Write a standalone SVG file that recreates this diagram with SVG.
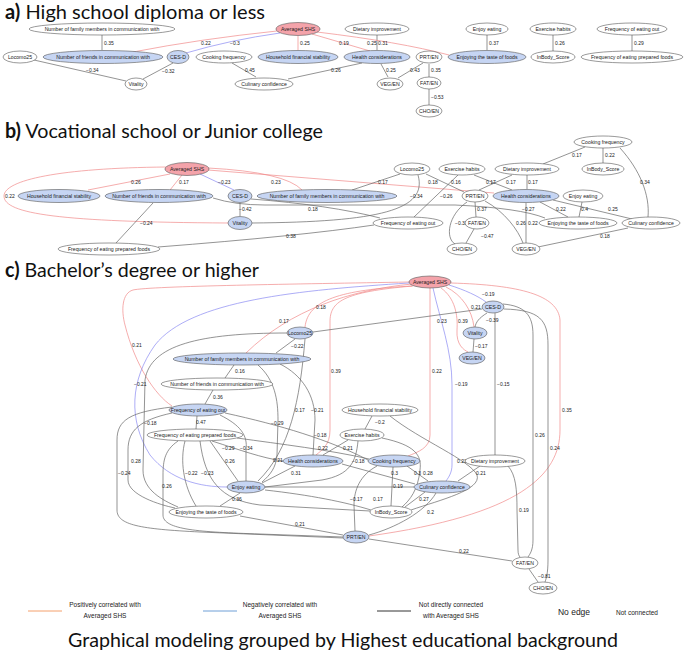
<svg xmlns="http://www.w3.org/2000/svg" width="685" height="656" viewBox="0 0 685 656">
<style>
text{font-family:"Liberation Sans",Arial,sans-serif;fill:#222}
.h{font-family:Lato,"Liberation Sans",sans-serif;font-size:20px;fill:#111}
.hb{font-weight:bold}
ellipse{stroke:#555;stroke-width:0.6;fill:#fff}
.b ellipse{fill:#c6d5f3}
.p ellipse{fill:#f4a3aa}
g.node text{font-size:5.2px;text-anchor:middle;dominant-baseline:central}
.edges path,.edges line{fill:none;stroke:#666;stroke-width:0.7}
.edges .r{stroke:#f08a8a}
.edges .u{stroke:#8a8af2}
.lb text{font-size:5px;fill:#222}
.lg{font-size:6.5px;text-anchor:middle}
</style>
<rect width="685" height="656" fill="#fff"/>

<!-- titles -->
<text class="h" x="5" y="19" textLength="260" lengthAdjust="spacingAndGlyphs"><tspan class="hb">a)</tspan> High school diploma or less</text>
<text class="h" x="5" y="138" textLength="318" lengthAdjust="spacingAndGlyphs"><tspan class="hb">b)</tspan> Vocational school or Junior college</text>
<text class="h" x="5" y="277" textLength="254" lengthAdjust="spacingAndGlyphs"><tspan class="hb">c)</tspan> Bachelor’s degree or higher</text>

<!-- ================= PANEL A edges ================= -->
<g class="edges" id="edges-a">
<line x1="102" y1="35" x2="102" y2="50"/>
<path class="r" d="M277,31 Q200,39 133,52"/>
<path class="u" d="M280,33 Q230,40 186,53"/>
<line x1="34" y1="60" x2="126" y2="81"/>
<line x1="173" y1="63" x2="143" y2="79"/>
<line class="r" x1="298" y1="36" x2="298" y2="50"/>
<line class="r" x1="312" y1="34" x2="370" y2="51"/>
<line x1="377" y1="35" x2="377" y2="50"/>
<path class="r" d="M317,32 Q400,42 449,55"/>
<line x1="232" y1="63" x2="256" y2="77"/>
<line x1="362" y1="63" x2="288" y2="79"/>
<line x1="381" y1="64" x2="388" y2="77"/>
<line x1="423" y1="63" x2="398" y2="78"/>
<line x1="429" y1="64" x2="429" y2="77"/>
<line x1="429" y1="89" x2="429" y2="105"/>
<line x1="487" y1="35" x2="487" y2="50"/>
<line x1="553" y1="35" x2="553" y2="51"/>
<line x1="632" y1="35" x2="632" y2="51"/>
</g>
<g class="lb">
<text x="104" y="45">0.35</text>
<text x="201" y="45">0.22</text>
<text x="230" y="45">−0.3</text>
<text x="300" y="45">0.25</text>
<text x="339" y="45">0.19</text>
<text x="367" y="45">0.25</text>
<text x="378" y="45">0.31</text>
<text x="86" y="72">−0.34</text>
<text x="162" y="73">−0.32</text>
<text x="245" y="72">0.45</text>
<text x="331" y="72">0.26</text>
<text x="386" y="72">0.25</text>
<text x="410" y="72">0.43</text>
<text x="431" y="72">0.35</text>
<text x="431" y="99">−0.53</text>
<text x="489" y="45">0.37</text>
<text x="555" y="45">0.26</text>
<text x="634" y="45">0.29</text>
</g>

<!-- PANEL A nodes -->
<g class="node" id="a-fam"><ellipse cx="102" cy="29" rx="73" ry="6"/><text x="102" y="29">Number of family members in communication with</text></g>
<g class="node b" id="a-fri"><ellipse cx="103" cy="57" rx="60" ry="6.5"/><text x="103" y="57">Number of friends in communication with</text></g>
<g class="node" id="a-loc"><ellipse cx="20" cy="57" rx="17" ry="6"/><text x="20" y="57">Locomo25</text></g>
<g class="node b" id="a-ces"><ellipse cx="178" cy="57" rx="11" ry="6.5"/><text x="178" y="57">CES-D</text></g>
<g class="node" id="a-vit"><ellipse cx="136" cy="84" rx="11" ry="6"/><text x="136" y="84">Vitality</text></g>
<g class="node" id="a-cook"><ellipse cx="224" cy="57" rx="28" ry="6"/><text x="224" y="57">Cooking frequency</text></g>
<g class="node" id="a-cul"><ellipse cx="264" cy="84" rx="29" ry="6"/><text x="264" y="84">Culinary confidence</text></g>
<g class="node p" id="a-shs"><ellipse cx="298" cy="29" rx="22" ry="6.5"/><text x="298" y="29">Averaged SHS</text></g>
<g class="node b" id="a-hfs"><ellipse cx="298" cy="57" rx="40" ry="6.5"/><text x="298" y="57">Household financial stability</text></g>
<g class="node" id="a-diet"><ellipse cx="377" cy="29" rx="32" ry="6"/><text x="377" y="29">Dietary improvement</text></g>
<g class="node b" id="a-hea"><ellipse cx="377" cy="57" rx="33" ry="6.5"/><text x="377" y="57">Health considerations</text></g>
<g class="node" id="a-veg"><ellipse cx="390" cy="84" rx="13" ry="6"/><text x="390" y="84">VEG/EN</text></g>
<g class="node" id="a-prt"><ellipse cx="429" cy="57" rx="13" ry="6"/><text x="429" y="57">PRT/EN</text></g>
<g class="node" id="a-fat"><ellipse cx="429" cy="83" rx="12" ry="6"/><text x="429" y="83">FAT/EN</text></g>
<g class="node" id="a-cho"><ellipse cx="429" cy="111" rx="13" ry="6"/><text x="429" y="111">CHO/EN</text></g>
<g class="node b" id="a-ent"><ellipse cx="487" cy="57" rx="39" ry="6.5"/><text x="487" y="57">Enjoying the taste of foods</text></g>
<g class="node" id="a-enj"><ellipse cx="487" cy="29" rx="21" ry="6"/><text x="487" y="29">Enjoy eating</text></g>
<g class="node" id="a-ex"><ellipse cx="553" cy="29" rx="23" ry="6"/><text x="553" y="29">Exercise habits</text></g>
<g class="node" id="a-inb"><ellipse cx="553" cy="57" rx="22" ry="6"/><text x="553" y="57">InBody_Score</text></g>
<g class="node" id="a-feo"><ellipse cx="632" cy="29" rx="35" ry="6"/><text x="632" y="29">Frequency of eating out</text></g>
<g class="node" id="a-fepf"><ellipse cx="632" cy="57" rx="51" ry="6"/><text x="632" y="57">Frequency of eating prepared foods</text></g>

<!-- ================= PANEL B edges ================= -->
<g class="edges" id="edges-b">
<line class="r" x1="170" y1="174" x2="88" y2="190"/>
<line class="r" x1="182" y1="175" x2="170" y2="190"/>
<line class="u" x1="200" y1="174" x2="234" y2="190"/>
<path class="r" d="M208,168 Q285,172 302,190"/>
<path class="r" d="M166,167 C60,168 4,180 4,196 C4,214 60,222 228,223"/>
<path class="r" d="M208,170 L494,193"/>
<line x1="400" y1="174" x2="352" y2="190"/>
<line x1="426" y1="174" x2="464" y2="192"/>
<line x1="458" y1="175" x2="414" y2="217"/>
<path d="M418,175 C428,210 380,222 252,223"/>
<line x1="240" y1="203" x2="240" y2="216"/>
<line x1="153" y1="203" x2="116" y2="243"/>
<path d="M158,247 Q300,236 374,225"/>
<path d="M251,199 Q330,205 380,218"/>
<path d="M213,198 Q235,205 265,205 L455,205 Q520,208 545,218"/>
<line x1="512" y1="175" x2="479" y2="190"/>
<line x1="474" y1="175" x2="512" y2="190"/>
<line x1="527" y1="175" x2="527" y2="189"/>
<line x1="585" y1="147" x2="543" y2="164"/>
<line x1="603" y1="148" x2="603" y2="163"/>
<path d="M620,148 C640,170 650,195 648,217"/>
<line x1="475" y1="202" x2="476" y2="217"/>
<path d="M467,202 C448,215 445,238 455,244"/>
<line x1="474" y1="229" x2="466" y2="243"/>
<path d="M485,201 C505,212 518,230 523,243"/>
<line x1="526" y1="203" x2="526" y2="243"/>
<line x1="540" y1="202" x2="568" y2="217"/>
<line x1="582" y1="202" x2="579" y2="217"/>
<line x1="553" y1="200" x2="632" y2="219"/>
<line x1="628" y1="228" x2="538" y2="247"/>
</g>
<g class="lb">
<text x="131" y="184">0.26</text>
<text x="179" y="184">0.17</text>
<text x="218" y="184">−0.23</text>
<text x="271" y="184">0.23</text>
<text x="5" y="198">0.22</text>
<text x="428" y="184">0.18</text>
<text x="378" y="184">0.17</text>
<text x="440" y="198">−0.26</text>
<text x="451" y="184">0.16</text>
<text x="410" y="198">−0.34</text>
<text x="239" y="211">−0.42</text>
<text x="140" y="225">−0.24</text>
<text x="286" y="238">0.38</text>
<text x="308" y="211">0.18</text>
<text x="522" y="211">−0.27</text>
<text x="486" y="184">0.17</text>
<text x="506" y="184">0.17</text>
<text x="528" y="184">0.17</text>
<text x="572" y="157">0.17</text>
<text x="605" y="157">0.22</text>
<text x="640" y="184">0.34</text>
<text x="477" y="211">0.37</text>
<text x="455" y="225">−0.32</text>
<text x="481" y="238">−0.47</text>
<text x="516" y="225">0.26</text>
<text x="528" y="225">0.22</text>
<text x="556" y="211">0.22</text>
<text x="581" y="211">0.4</text>
<text x="608" y="211">0.25</text>
<text x="600" y="238">0.18</text>
</g>

<!-- PANEL B nodes -->
<g class="node p" id="b-shs"><ellipse cx="187" cy="169" rx="22" ry="6.5"/><text x="187" y="169">Averaged SHS</text></g>
<g class="node b" id="b-hfs"><ellipse cx="59" cy="196" rx="41" ry="6.5"/><text x="59" y="196">Household financial stability</text></g>
<g class="node b" id="b-fri"><ellipse cx="159" cy="196" rx="54" ry="6.5"/><text x="159" y="196">Number of friends in communication with</text></g>
<g class="node b" id="b-ces"><ellipse cx="240" cy="196" rx="12" ry="6.5"/><text x="240" y="196">CES-D</text></g>
<g class="node b" id="b-vit"><ellipse cx="240" cy="223" rx="12" ry="6.5"/><text x="240" y="223">Vitality</text></g>
<g class="node" id="b-fepf"><ellipse cx="109" cy="249" rx="51" ry="6"/><text x="109" y="249">Frequency of eating prepared foods</text></g>
<g class="node b" id="b-fam"><ellipse cx="327" cy="196" rx="70" ry="6.5"/><text x="327" y="196">Number of family members in communication with</text></g>
<g class="node" id="b-loc"><ellipse cx="412" cy="169" rx="18" ry="6"/><text x="412" y="169">Locomo25</text></g>
<g class="node" id="b-feo"><ellipse cx="408" cy="223" rx="35" ry="6"/><text x="408" y="223">Frequency of eating out</text></g>
<g class="node" id="b-ex"><ellipse cx="462" cy="169" rx="23" ry="6"/><text x="462" y="169">Exercise habits</text></g>
<g class="node" id="b-diet"><ellipse cx="527" cy="169" rx="32" ry="6"/><text x="527" y="169">Dietary improvement</text></g>
<g class="node" id="b-cook"><ellipse cx="603" cy="142" rx="29" ry="6"/><text x="603" y="142">Cooking frequency</text></g>
<g class="node" id="b-inb"><ellipse cx="603" cy="169" rx="21" ry="6"/><text x="603" y="169">InBody_Score</text></g>
<g class="node" id="b-prt"><ellipse cx="475" cy="196" rx="13" ry="6"/><text x="475" y="196">PRT/EN</text></g>
<g class="node b" id="b-hea"><ellipse cx="526" cy="196" rx="33" ry="6.5"/><text x="526" y="196">Health considerations</text></g>
<g class="node" id="b-enj"><ellipse cx="583" cy="196" rx="20" ry="6"/><text x="583" y="196">Enjoy eating</text></g>
<g class="node" id="b-fat"><ellipse cx="477" cy="223" rx="12" ry="6"/><text x="477" y="223">FAT/EN</text></g>
<g class="node" id="b-ent"><ellipse cx="578" cy="223" rx="39" ry="6"/><text x="578" y="223">Enjoying the taste of foods</text></g>
<g class="node" id="b-cul"><ellipse cx="651" cy="223" rx="29" ry="6"/><text x="651" y="223">Culinary confidence</text></g>
<g class="node" id="b-cho"><ellipse cx="462" cy="249" rx="15" ry="6"/><text x="462" y="249">CHO/EN</text></g>
<g class="node" id="b-veg"><ellipse cx="526" cy="249" rx="14" ry="6"/><text x="526" y="249">VEG/EN</text></g>

<!-- ================= PANEL C edges ================= -->
<g class="edges" id="edges-c">
<path class="r" d="M409,282 C300,284 150,286 133,290 C122,293 121,310 125,325 C135,365 155,395 172,406"/>
<path class="r" d="M412,284 C350,290 290,310 246,353"/>
<path class="r" d="M412,286 C340,290 308,300 305,327"/>
<path class="r" d="M413,286 C342,292 330,302 330,322 L330,430 C330,445 322,450 316,455"/>
<path class="r" d="M430,288 L430,435 C430,448 418,452 408,456"/>
<path class="r" d="M441,288 C455,298 458,315 457,330 C456,345 464,350 468,352"/>
<path class="r" d="M446,287 C462,295 472,310 474,327"/>
<path class="r" d="M451,283 C520,285 558,295 560,320 L560,430 C560,475 520,515 369,536"/>
<path class="u" d="M409,283 C300,290 190,300 155,345 C130,380 128,420 150,455 C170,480 200,487 227,487"/>
<path class="u" d="M449,285 C465,290 478,296 486,302"/>
<path class="u" d="M433,288 C440,320 452,350 452,385 L452,465 C452,472 449,477 446,481"/>
<path d="M487,313 C479,318 476,322 475,327"/>
<line x1="474" y1="339" x2="473" y2="352"/>
<line x1="482" y1="309" x2="313" y2="332"/>
<line x1="495" y1="313" x2="495" y2="455"/>
<path d="M503,304 C525,306 533,315 533,335 L533,540 C533,550 530,554 528,557"/>
<path d="M504,309 C540,310 548,320 548,345 L548,560 C548,574 546,579 545,582"/>
<line x1="295" y1="339" x2="276" y2="353"/>
<path d="M287,333 C200,333 150,345 145,380 L143,470 C143,490 162,500 178,507"/>
<path d="M305,339 C300,400 290,450 258,481"/>
<line x1="234" y1="365" x2="225" y2="378"/>
<line x1="213" y1="390" x2="205" y2="404"/>
<path d="M280,364 C302,375 315,395 315,420 L313,455"/>
<path d="M258,365 C275,380 278,400 278,420 L277,455 C276,468 270,475 262,482"/>
<line x1="197" y1="416" x2="196" y2="429"/>
<path d="M225,413 C280,425 330,440 368,460"/>
<path d="M220,415 C240,425 248,435 246,450 L246,481"/>
<path d="M212,441 C240,450 262,458 283,461"/>
<path d="M237,438 C280,444 330,450 369,459"/>
<line x1="210" y1="441" x2="238" y2="481"/>
<path d="M185,441 C180,460 183,485 196,506"/>
<path d="M200,441 C205,480 220,500 260,505 L370,511"/>
<path d="M178,441 C165,450 163,460 163,475 L163,515 C163,530 200,532 260,534 L343,537"/>
<path d="M172,413 C140,420 128,430 128,450 L128,480 C128,495 160,505 175,508"/>
<path d="M172,407 C130,412 117,420 117,440 L117,510 C117,525 140,529 200,532 L343,538"/>
<line x1="240" y1="493" x2="220" y2="506"/>
<line x1="295" y1="466" x2="262" y2="483"/>
<line x1="348" y1="440" x2="323" y2="455"/>
<line x1="372" y1="416" x2="365" y2="429"/>
<path d="M358,441 C356,462 350,475 322,480 L265,487"/>
<path d="M382,438 C415,445 422,455 420,470 C418,490 410,500 402,507"/>
<path d="M390,416 C420,440 470,460 477,475 C482,490 440,500 411,510"/>
<line x1="480" y1="466" x2="458" y2="481"/>
<line x1="342" y1="464" x2="415" y2="484"/>
<line x1="407" y1="466" x2="428" y2="481"/>
<line x1="393" y1="467" x2="391" y2="506"/>
<path d="M377,466 C360,475 354,490 354,505 L355,531"/>
<path d="M265,490 C310,495 345,502 371,510"/>
<line x1="265" y1="487" x2="414" y2="487"/>
<line x1="425" y1="492" x2="405" y2="507"/>
<path d="M436,493 C425,512 395,528 369,535"/>
<line x1="240" y1="516" x2="343" y2="535"/>
<line x1="369" y1="539" x2="512" y2="561"/>
<path d="M508,466 C516,475 517,490 517,510 L518,550 C518,554 519,556 520,557"/>
<line x1="529" y1="569" x2="538" y2="582"/>
</g>
<g class="lb">
<text x="132" y="347">0.21</text>
<text x="279" y="323">0.17</text>
<text x="316" y="309">0.18</text>
<text x="331" y="373">0.39</text>
<text x="432" y="373">0.22</text>
<text x="458" y="323">0.39</text>
<text x="471" y="309">0.21</text>
<text x="562" y="412">0.35</text>
<text x="134" y="386">−0.21</text>
<text x="482" y="296">−0.19</text>
<text x="455" y="386">−0.19</text>
<text x="486" y="322">−0.39</text>
<text x="475" y="348">−0.17</text>
<text x="437" y="323">0.23</text>
<text x="497" y="386">−0.15</text>
<text x="535" y="437">0.26</text>
<text x="550" y="450">0.24</text>
<text x="291" y="348">−0.22</text>
<text x="144" y="425">−0.18</text>
<text x="295" y="412">0.17</text>
<text x="235" y="373">0.16</text>
<text x="213" y="399">0.36</text>
<text x="311" y="412">−0.21</text>
<text x="273" y="462">0.21</text>
<text x="196" y="424">0.47</text>
<text x="271" y="425">−0.29</text>
<text x="240" y="450">−0.34</text>
<text x="222" y="450">−0.29</text>
<text x="318" y="450">0.22</text>
<text x="314" y="437">−0.18</text>
<text x="225" y="463">0.26</text>
<text x="185" y="475">−0.22</text>
<text x="201" y="475">−0.23</text>
<text x="162" y="488">0.26</text>
<text x="131" y="463">0.28</text>
<text x="118" y="475">−0.24</text>
<text x="232" y="501">0.36</text>
<text x="291" y="475">0.31</text>
<text x="343" y="450">0.21</text>
<text x="375" y="424">−0.2</text>
<text x="352" y="463">−0.18</text>
<text x="423" y="475">0.28</text>
<text x="457" y="463">0.23</text>
<text x="476" y="475">0.21</text>
<text x="391" y="475">0.3</text>
<text x="414" y="475">0.3</text>
<text x="393" y="488">0.19</text>
<text x="350" y="501">−0.17</text>
<text x="373" y="501">0.17</text>
<text x="419" y="501">0.27</text>
<text x="427" y="514">0.2</text>
<text x="295" y="526">0.21</text>
<text x="459" y="553">0.22</text>
<text x="519" y="512">0.19</text>
<text x="538" y="578">−0.81</text>
</g>

<!-- PANEL C nodes -->
<g class="node p" id="c-shs"><ellipse cx="430" cy="282" rx="21" ry="6"/><text x="430" y="282">Averaged SHS</text></g>
<g class="node b" id="c-ces"><ellipse cx="493" cy="307" rx="11" ry="6"/><text x="493" y="307">CES-D</text></g>
<g class="node b" id="c-vit"><ellipse cx="475" cy="333" rx="12" ry="6"/><text x="475" y="333">Vitality</text></g>
<g class="node b" id="c-veg"><ellipse cx="472" cy="358" rx="13" ry="6"/><text x="472" y="358">VEG/EN</text></g>
<g class="node b" id="c-loc"><ellipse cx="300" cy="333" rx="13" ry="6"/><text x="300" y="333">Locomo25</text></g>
<g class="node b" id="c-fam"><ellipse cx="242" cy="359" rx="69" ry="6"/><text x="242" y="359">Number of family members in communication with</text></g>
<g class="node" id="c-fri"><ellipse cx="217" cy="384" rx="56" ry="6"/><text x="217" y="384">Number of friends in communication with</text></g>
<g class="node b" id="c-feo"><ellipse cx="198" cy="410" rx="29" ry="6"/><text x="198" y="410">Frequency of eating out</text></g>
<g class="node" id="c-hfs"><ellipse cx="380" cy="410" rx="38" ry="6"/><text x="380" y="410">Household financial stability</text></g>
<g class="node" id="c-fepf"><ellipse cx="195" cy="435" rx="48" ry="6"/><text x="195" y="435">Frequency of eating prepared foods</text></g>
<g class="node" id="c-ex"><ellipse cx="362" cy="435" rx="22" ry="6"/><text x="362" y="435">Exercise habits</text></g>
<g class="node b" id="c-hea"><ellipse cx="313" cy="461" rx="30" ry="6"/><text x="313" y="461">Health considerations</text></g>
<g class="node b" id="c-cook"><ellipse cx="394" cy="461" rx="26" ry="6"/><text x="394" y="461">Cooking frequency</text></g>
<g class="node" id="c-diet"><ellipse cx="495" cy="461" rx="30" ry="6"/><text x="495" y="461">Dietary improvement</text></g>
<g class="node b" id="c-enj"><ellipse cx="246" cy="487" rx="19" ry="6"/><text x="246" y="487">Enjoy eating</text></g>
<g class="node b" id="c-cul"><ellipse cx="442" cy="487" rx="28" ry="6"/><text x="442" y="487">Culinary confidence</text></g>
<g class="node" id="c-ent"><ellipse cx="206" cy="512" rx="37" ry="6"/><text x="206" y="512">Enjoying the taste of foods</text></g>
<g class="node" id="c-inb"><ellipse cx="391" cy="512" rx="21" ry="6"/><text x="391" y="512">InBody_Score</text></g>
<g class="node b" id="c-prt"><ellipse cx="356" cy="537" rx="13" ry="6"/><text x="356" y="537">PRT/EN</text></g>
<g class="node" id="c-fat"><ellipse cx="525" cy="563" rx="13" ry="6"/><text x="525" y="563">FAT/EN</text></g>
<g class="node" id="c-cho"><ellipse cx="543" cy="588" rx="14" ry="6"/><text x="543" y="588">CHO/EN</text></g>

<!-- legend -->
<g id="legend">
<line x1="28" y1="611" x2="62" y2="611" stroke="#f4a06c" stroke-width="1"/>
<text class="lg" x="105" y="607">Positively correlated with</text>
<text class="lg" x="105" y="618">Averaged SHS</text>
<line x1="203" y1="611" x2="237" y2="611" stroke="#6f9fd6" stroke-width="1"/>
<text class="lg" x="280" y="607">Negatively correlated with</text>
<text class="lg" x="280" y="618">Averaged SHS</text>
<line x1="377" y1="611" x2="411" y2="611" stroke="#333" stroke-width="1"/>
<text class="lg" x="451" y="607">Not directly connected</text>
<text class="lg" x="451" y="618">with Averaged SHS</text>
<text x="574" y="615" font-size="8.5" text-anchor="middle">No edge</text>
<text x="637" y="615" font-size="6.5" text-anchor="middle">Not connected</text>
</g>
<text class="h" x="68" y="647" font-size="21.5" textLength="550" lengthAdjust="spacingAndGlyphs">Graphical modeling grouped by Highest educational background</text>
</svg>
